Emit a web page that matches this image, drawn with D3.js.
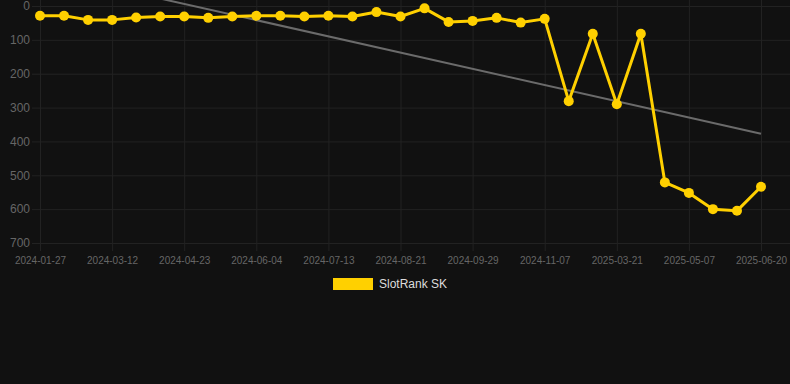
<!DOCTYPE html>
<html>
<head>
<meta charset="utf-8">
<script src="https://cdn.jsdelivr.net/npm/d3@7"></script>
<style>
  html, body { margin: 0; padding: 0; background: #111111; }
  svg { display: block; font-family: "Liberation Sans", Arial, Helvetica, sans-serif; }
</style>
</head>
<body>
<div id="chart"></div>
<script>
// rank values (lower is better), one per sample date
const dates = [
  "2024-01-27", "2024-02-11", "2024-02-26", "2024-03-12", "2024-03-26", "2024-04-09",
  "2024-04-23", "2024-05-07", "2024-05-21", "2024-06-04", "2024-06-17", "2024-06-30",
  "2024-07-13", "2024-07-26", "2024-08-08", "2024-08-21", "2024-09-03", "2024-09-16",
  "2024-09-29", "2024-10-12", "2024-10-25", "2024-11-07", "2024-12-20", "2025-02-05",
  "2025-03-21", "2025-04-01", "2025-04-18", "2025-05-07", "2025-05-21", "2025-06-05",
  "2025-06-20"
];
const ranks = [
  29, 29, 41, 41, 34, 31, 31, 35, 31, 29, 29, 31, 29, 31, 18, 31,
  7, 47, 44, 35, 49, 38, 281, 82, 290, 82, 521, 552, 600, 605, 534
];
const yTicks = [0, 100, 200, 300, 400, 500, 600, 700];
const seriesName = "SlotRank SK";

const W = 790, H = 384;
const margin = { top: 6, right: 29, bottom: 141, left: 40 };
const innerW = W - margin.left - margin.right;
const innerH = H - margin.top - margin.bottom;

const svg = d3.select("#chart").append("svg")
  .attr("width", W)
  .attr("height", H);

svg.append("rect").attr("width", W).attr("height", H).attr("fill", "#111111");

const g = svg.append("g").attr("transform", `translate(${margin.left},${margin.top})`);

const x = d3.scalePoint().domain(d3.range(dates.length)).range([0, innerW]);
const y = d3.scaleLinear().domain([0, 700]).range([0, innerH]);

// horizontal grid + y labels
const yAxis = g.append("g")
  .call(d3.axisLeft(y).tickValues(yTicks).tickSize(-(innerW + margin.right + 8)).tickPadding(2))
  .attr("transform", "translate(-8,0)");
yAxis.select(".domain").remove();
yAxis.selectAll("line").attr("stroke", "#222");
yAxis.selectAll("text").attr("fill", "#666").attr("font-size", "12px");

// vertical grid + x labels every third point
const labelIdx = d3.range(0, dates.length, 3);
const xAxis = g.append("g")
  .attr("transform", `translate(0,${innerH + 8})`)
  .call(d3.axisBottom(x).tickValues(labelIdx).tickFormat(i => dates[i])
    .tickSize(-(innerH + 8 + margin.top)).tickPadding(6));
xAxis.select(".domain").remove();
xAxis.selectAll("line").attr("stroke", "#222");
xAxis.selectAll("text").attr("fill", "#666").attr("font-size", "10px");

// clip for trend line
svg.append("clipPath").attr("id", "plot-clip")
  .append("rect").attr("x", -margin.left).attr("y", 0 - margin.top)
  .attr("width", W).attr("height", innerH + margin.top);

// least squares trend
const n = ranks.length;
const mx = d3.mean(d3.range(n));
const my = d3.mean(ranks);
const slope = d3.sum(ranks, (v, i) => (i - mx) * (v - my)) / d3.sum(d3.range(n), i => (i - mx) * (i - mx));
const icpt = my - slope * mx;

g.append("line")
  .attr("clip-path", "url(#plot-clip)")
  .attr("x1", x(0)).attr("y1", y(icpt))
  .attr("x2", x(n - 1)).attr("y2", y(icpt + slope * (n - 1)))
  .attr("stroke", "#6b6b6b")
  .attr("stroke-width", 2);

const line = d3.line().x((d, i) => x(i)).y(d => y(d));

g.append("path")
  .datum(ranks)
  .attr("d", line)
  .attr("fill", "none")
  .attr("stroke", "#ffd000")
  .attr("stroke-width", 3)
  .attr("stroke-linejoin", "round");

g.selectAll(".pt").data(ranks).join("circle")
  .attr("class", "pt")
  .attr("cx", (d, i) => x(i))
  .attr("cy", d => y(d))
  .attr("r", 5)
  .attr("fill", "#ffd000");

// legend
const legend = svg.append("g").attr("transform", "translate(333,278)");
legend.append("rect").attr("width", 40).attr("height", 12).attr("fill", "#ffd000");
legend.append("text")
  .attr("x", 46).attr("y", 6).attr("dy", "0.35em")
  .attr("fill", "#dddddd").attr("font-size", "12px")
  .text(seriesName);
</script>
</body>
</html>
